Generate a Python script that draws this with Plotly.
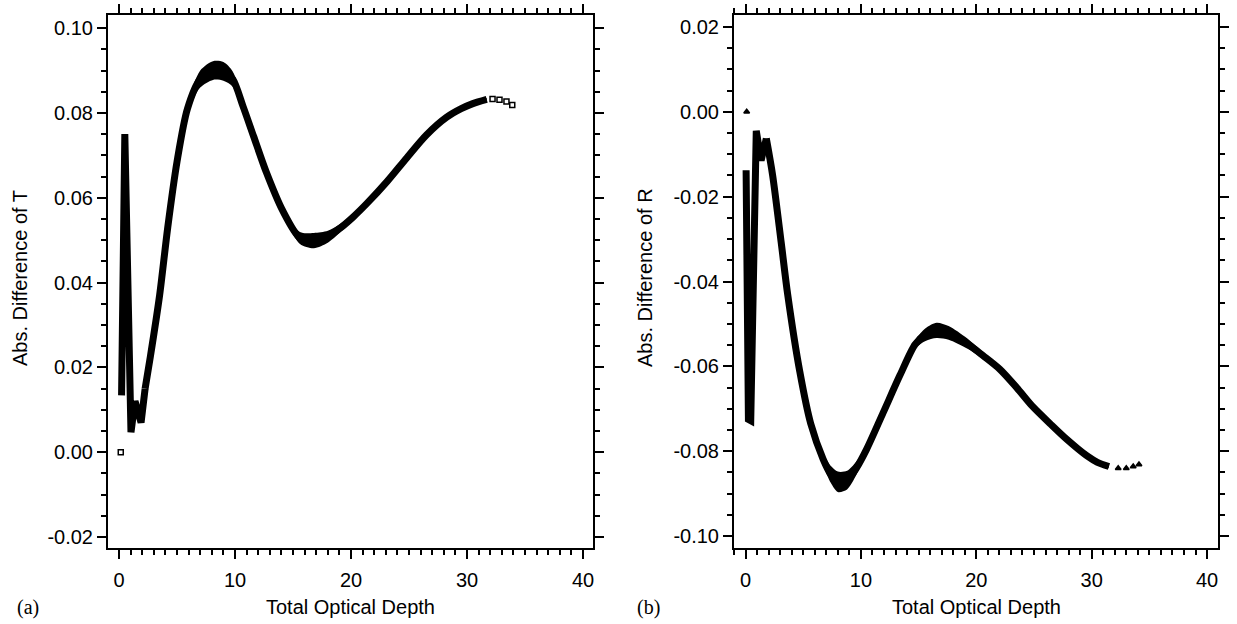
import plotly.graph_objects as go

# ---- Panel (a): absolute difference of transmittance T ----
tau_a_first = [0.15]
diff_t_first = [0.0]

tau_a = [0.22, 0.5, 1.03, 1.38, 1.9, 2.25, 2.7, 3.5, 4.2, 5.0, 5.9, 7.0, 8.1, 9.0,
         9.8, 10.7, 11.6, 12.7, 14.1, 15.6, 16.8, 18.0, 19.05, 20.2, 21.35, 23.1,
         24.8, 26.5, 28.25, 29.5, 30.5, 31.7]
diff_t = [0.0134, 0.0750, 0.0047, 0.0120, 0.0070, 0.0150, 0.0225, 0.0370, 0.0530,
          0.0685, 0.0810, 0.0880, 0.0900, 0.0898, 0.0880, 0.0815, 0.0745, 0.0660,
          0.0570, 0.0505, 0.0499, 0.0508, 0.0528, 0.0555, 0.0586, 0.0638, 0.0694,
          0.0748, 0.0790, 0.0810, 0.0822, 0.0832]
# scatter half-width of the point cloud around the curve
spread_t = [0.0, 0.0, 0.0, 0.0, 0.0, 0.0, 0.0, 0.0, 0.0, 0.0003, 0.0012, 0.0020,
            0.0022, 0.0022, 0.0018, 0.0010, 0.0006, 0.0006, 0.0008, 0.0014, 0.0018,
            0.0014, 0.0010, 0.0008, 0.0006, 0.0006, 0.0006, 0.0006, 0.0006, 0.0005,
            0.0004, 0.0003]
spike_end_a = 5  # last point of the jagged thin-layer section

tau_a_tail = [32.2, 32.8, 33.4, 33.9]
diff_t_tail = [0.0833, 0.0831, 0.0827, 0.0819]

# ---- Panel (b): absolute difference of reflectance R ----
tau_b_first = [0.1]
diff_r_first = [0.0]

tau_b = [0.05, 0.25, 0.45, 0.93, 1.35, 1.8, 2.35, 3.1, 3.65, 4.7, 5.65, 6.73, 7.4,
         8.0, 8.8, 9.6, 10.5, 11.93, 13.4, 14.7, 15.6, 16.56, 17.6, 19.2, 20.6,
         22.05, 23.5, 24.9, 26.4, 27.85, 29.6, 30.5, 31.5]
diff_r = [-0.0138, -0.0725, -0.0728, -0.0045, -0.0115, -0.0063, -0.0150, -0.0310,
          -0.0430, -0.0612, -0.0735, -0.0819, -0.0855, -0.0872, -0.0868, -0.0840,
          -0.0795, -0.0709, -0.0620, -0.0548, -0.0525, -0.0515, -0.0521, -0.0546,
          -0.0575, -0.0607, -0.0650, -0.0695, -0.0735, -0.0772, -0.0811, -0.0826,
          -0.0836]
spread_r = [0.0, 0.0, 0.0, 0.0, 0.0, 0.0, 0.0, 0.0, 0.0, 0.0, 0.0004, 0.0014, 0.0020,
            0.0024, 0.0022, 0.0016, 0.0010, 0.0008, 0.0006, 0.0010, 0.0015, 0.0018,
            0.0016, 0.0012, 0.0008, 0.0006, 0.0006, 0.0006, 0.0006, 0.0005, 0.0004,
            0.0004, 0.0003]
spike_end_b = 5

tau_b_tail = [32.3, 33.0, 33.6, 34.1]
diff_r_tail = [-0.0840, -0.0840, -0.0836, -0.0831]

# ---- tick labels ----
x_ticks = [0, 10, 20, 30, 40]
x_labels = ["0", "10", "20", "30", "40"]
ya_ticks = [-0.02, 0.0, 0.02, 0.04, 0.06, 0.08, 0.10]
ya_labels = ["-0.02", "0.00", "0.02", "0.04", "0.06", "0.08", "0.10"]
yb_ticks = [-0.10, -0.08, -0.06, -0.04, -0.02, 0.0, 0.02]
yb_labels = ["-0.10", "-0.08", "-0.06", "-0.04", "-0.02", "0.00", "0.02"]

W, H = 1237, 624
FONT = "Liberation Sans, Arial, Helvetica, sans-serif"
INK = "black"

fig = go.Figure()


def add_panel(fig, xa, ya, first_x, first_y, xs, ys, spread, k, tail_x, tail_y, symbol):
    upper = [y + s for y, s in zip(ys, spread)]
    lower = [y - s for y, s in zip(ys, spread)]
    smooth = dict(shape="spline", smoothing=0.8)
    fig.add_trace(go.Scatter(x=xs[k:], y=upper[k:], mode="lines",
                             line=dict(width=0, color=INK, **smooth),
                             xaxis=xa, yaxis=ya, showlegend=False, hoverinfo="skip"))
    fig.add_trace(go.Scatter(x=xs[k:], y=lower[k:], mode="lines",
                             line=dict(width=0, color=INK, **smooth),
                             fill="tonexty", fillcolor=INK,
                             xaxis=xa, yaxis=ya, showlegend=False, hoverinfo="skip"))
    # jagged optically-thin section, straight segments
    fig.add_trace(go.Scatter(x=xs[:k + 1], y=ys[:k + 1], mode="lines",
                             line=dict(width=7, color=INK),
                             xaxis=xa, yaxis=ya, showlegend=False))
    # smooth remainder of the curve
    fig.add_trace(go.Scatter(x=xs[k:], y=ys[k:], mode="lines",
                             line=dict(width=7, color=INK, **smooth),
                             xaxis=xa, yaxis=ya, showlegend=False))
    fig.add_trace(go.Scatter(x=first_x + tail_x, y=first_y + tail_y, mode="markers",
                             marker=dict(symbol=symbol, size=5, color=INK,
                                         line=dict(width=1.5, color=INK)),
                             xaxis=xa, yaxis=ya, showlegend=False))


add_panel(fig, "x", "y", tau_a_first, diff_t_first, tau_a, diff_t, spread_t,
          spike_end_a, tau_a_tail, diff_t_tail, "square-open")
add_panel(fig, "x2", "y2", tau_b_first, diff_r_first, tau_b, diff_r, spread_r,
          spike_end_b, tau_b_tail, diff_r_tail, "triangle-up")

axis_common = dict(
    showline=True, linecolor=INK, linewidth=2, mirror="ticks",
    ticks="outside", ticklen=9, tickwidth=2, tickcolor=INK,
    showgrid=False, zeroline=False,
    tickfont=dict(family=FONT, size=20, color=INK),
)
minor_x = dict(dtick=1, tick0=0, ticklen=5, tickwidth=1.5, tickcolor=INK, ticks="outside")
minor_y = dict(dtick=0.005, tick0=0, ticklen=5, tickwidth=1.5, tickcolor=INK, ticks="outside")

fig.update_layout(
    width=W, height=H,
    margin=dict(l=0, r=0, t=0, b=0),
    paper_bgcolor="white", plot_bgcolor="white",
    xaxis=dict(domain=[108 / W, 593 / W], range=[-0.95, 40.86], anchor="y",
               tickmode="array", tickvals=x_ticks, ticktext=x_labels,
               minor=minor_x, ticklabelstandoff=4, **axis_common),
    yaxis=dict(domain=[1 - 548 / H, 1 - 15 / H], range=[-0.0226, 0.1031], anchor="x",
               tickmode="array", tickvals=ya_ticks, ticktext=ya_labels,
               minor=minor_y, ticklabelstandoff=0, **axis_common),
    xaxis2=dict(domain=[734 / W, 1218 / W], range=[-1.0, 40.95], anchor="y2",
                tickmode="array", tickvals=x_ticks, ticktext=x_labels,
                minor=minor_x, ticklabelstandoff=4, **axis_common),
    yaxis2=dict(domain=[1 - 548 / H, 1 - 15 / H], range=[-0.1028, 0.0228], anchor="x2",
                tickmode="array", tickvals=yb_ticks, ticktext=yb_labels,
                minor=minor_y, ticklabelstandoff=0, **axis_common),
)

title_font = dict(family=FONT, size=20, color=INK)
panel_font = dict(family="Liberation Serif, Times New Roman, serif", size=20, color=INK)
annotations = [
    dict(text="Abs. Difference of T", x=20 / W, y=1 - 278 / H, textangle=-90,
         font=title_font),
    dict(text="Abs. Difference of R", x=645 / W, y=1 - 278 / H, textangle=-90,
         font=title_font),
    dict(text="Total Optical Depth", x=350.5 / W, y=1 - 607 / H, font=title_font),
    dict(text="Total Optical Depth", x=976 / W, y=1 - 607 / H, font=title_font),
    dict(text="(a)", x=15 / W, y=1 - 607 / H, xanchor="left", font=panel_font),
    dict(text="(b)", x=635 / W, y=1 - 607 / H, xanchor="left", font=panel_font),
]
for a in annotations:
    a.setdefault("xanchor", "center")
    fig.add_annotation(xref="paper", yref="paper", yanchor="middle", showarrow=False, **a)

fig.write_html("out.html")
